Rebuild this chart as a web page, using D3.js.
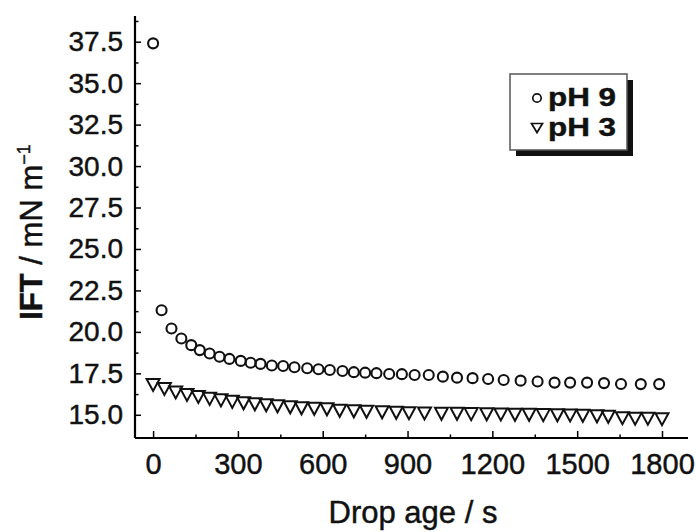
<!DOCTYPE html>
<html>
<head>
<meta charset="utf-8">
<script src="https://cdnjs.cloudflare.com/ajax/libs/d3/7.8.5/d3.min.js"></script>
<style>
  body { margin: 0; background: #fff; }
  svg { display: block; font-family: "Liberation Sans", Arial, sans-serif; }
  svg text { stroke: #111; stroke-width: 0.45px; }
</style>
</head>
<body>
<script>
// drop age (s) and IFT (mN/m)
var timeH9 = [0, 30, 65, 100, 135, 165, 200, 235, 270, 310, 345, 380, 420, 460, 500, 545, 585, 625, 670, 710,
              750, 790, 835, 880, 925, 975, 1025, 1075, 1130, 1185, 1240, 1300, 1360, 1420, 1475, 1535, 1595, 1655, 1725, 1790];
var iftH9 = [37.4, 21.3, 20.2, 19.6, 19.2, 18.9, 18.7, 18.5, 18.37, 18.25, 18.14, 18.07, 17.97, 17.94, 17.87, 17.81, 17.75, 17.7, 17.64, 17.57,
             17.54, 17.51, 17.46, 17.45, 17.4, 17.4, 17.3, 17.24, 17.21, 17.16, 17.1, 17.06, 17.01, 16.94, 16.94, 16.94, 16.91, 16.86, 16.85, 16.85];

var timeH3 = [0, 40, 80, 120, 160, 200, 240, 280, 320, 360, 400, 440, 485, 525, 570, 615, 660, 710, 755, 810,
              860, 905, 960, 1020, 1075, 1125, 1180, 1230, 1280, 1330, 1380, 1430, 1475, 1520, 1570, 1610, 1660, 1705, 1750, 1800];
var iftH3 = [16.8, 16.56, 16.35, 16.2, 16.08, 15.96, 15.87, 15.78, 15.69, 15.63, 15.57, 15.51, 15.45, 15.39, 15.36, 15.33, 15.24, 15.21, 15.18, 15.15,
             15.12, 15.1, 15.08, 15.06, 15.06, 15.04, 15.03, 15.02, 15.0, 15.0, 14.98, 14.97, 14.96, 14.94, 14.91, 14.88, 14.79, 14.76, 14.76, 14.73];

var xTicks = [0, 300, 600, 900, 1200, 1500, 1800];
var xMinor = [150, 450, 750, 1050, 1350, 1650];
var yTicks = [15.0, 17.5, 20.0, 22.5, 25.0, 27.5, 30.0, 32.5, 35.0, 37.5];
var yMinor = [16.25, 18.75, 21.25, 23.75, 26.25, 28.75, 31.25, 33.75, 36.25, 38.75];
var legendNames = ["pH 9", "pH 3"];

var width = 696, height = 532;
var pLeft = 135, pRight = 688, pTop = 16, pBottom = 438;

var svg = d3.select("body").append("svg")
    .attr("width", width)
    .attr("height", height);

var x = d3.scaleLinear().domain([-64, 1892]).range([pLeft, pRight]);
var y = d3.scaleLinear().domain([13.6, 39.05]).range([pBottom, pTop]);

// axes
var xAxis = d3.axisBottom(x).tickValues(xTicks).tickSize(-7).tickPadding(15).tickFormat(d3.format("d"));
var gx = svg.append("g").attr("transform", "translate(0," + pBottom + ")").call(xAxis);
gx.selectAll("line").attr("stroke-width", 1.5);
gx.selectAll("text").attr("font-size", 29).attr("fill", "#111").attr("dy", "0.72em");
gx.select(".domain").attr("stroke-width", 2.2).attr("d", "M" + pLeft + ",0H" + pRight);

var gxm = svg.append("g").attr("transform", "translate(0," + pBottom + ")")
    .call(d3.axisBottom(x).tickValues(xMinor).tickSize(-3.5).tickFormat(""));
gxm.select(".domain").remove();
gxm.selectAll("line").attr("stroke-width", 1.5);

var yAxis = d3.axisLeft(y).tickValues(yTicks).tickSize(-6).tickPadding(12).tickFormat(d3.format(".1f"));
var gy = svg.append("g").attr("transform", "translate(" + pLeft + ",0)").call(yAxis);
gy.selectAll("line").attr("stroke-width", 1.5);
gy.selectAll("text").attr("font-size", 28).attr("fill", "#111");
gy.select(".domain").attr("stroke-width", 2.2).attr("d", "M0," + pTop + "V" + pBottom);

var gym = svg.append("g").attr("transform", "translate(" + pLeft + ",0)")
    .call(d3.axisLeft(y).tickValues(yMinor).tickSize(-3.5).tickFormat(""));
gym.select(".domain").remove();
gym.selectAll("line").attr("stroke-width", 1.5);

// axis titles
svg.append("text")
    .attr("x", 413).attr("y", 523)
    .attr("text-anchor", "middle")
    .attr("font-size", 31)
    .attr("fill", "#111")
    .text("Drop age / s");

var yt = svg.append("text")
    .attr("transform", "translate(42,232) rotate(-90)")
    .attr("text-anchor", "middle")
    .attr("font-size", 31)
    .attr("fill", "#111");
yt.append("tspan").attr("font-weight", "bold").text("IFT");
yt.append("tspan").text(" / mN m");
yt.append("tspan").attr("font-size", 18).attr("dy", -12).text("\u22121");

// markers
var tri = "M-6.5,-6L6.5,-6L0,6Z";

svg.append("g").selectAll("path")
    .data(timeH3)
    .join("path")
    .attr("transform", function (d, i) { return "translate(" + x(d) + "," + y(iftH3[i]) + ")"; })
    .attr("d", tri)
    .attr("fill", "none")
    .attr("stroke", "#111")
    .attr("stroke-width", 2)
    .attr("stroke-linejoin", "miter");

svg.append("g").selectAll("circle")
    .data(timeH9)
    .join("circle")
    .attr("cx", function (d) { return x(d); })
    .attr("cy", function (d, i) { return y(iftH9[i]); })
    .attr("r", 5)
    .attr("fill", "none")
    .attr("stroke", "#111")
    .attr("stroke-width", 2.1);

// legend
var lg = svg.append("g");
lg.append("rect").attr("x", 516).attr("y", 80).attr("width", 117).attr("height", 76).attr("fill", "#111");
lg.append("rect").attr("x", 510).attr("y", 74).attr("width", 117).attr("height", 76)
    .attr("fill", "#fff").attr("stroke", "#555").attr("stroke-width", 1.5);

lg.append("circle").attr("cx", 537).attr("cy", 98).attr("r", 4.2).attr("fill", "none").attr("stroke", "#111").attr("stroke-width", 1.7);
lg.append("path").attr("transform", "translate(537,128)").attr("d", "M-5.5,-4.5L5.5,-4.5L0,4.5Z")
    .attr("fill", "none").attr("stroke", "#111").attr("stroke-width", 1.7);

lg.selectAll("text.leg")
    .data(legendNames)
    .join("text")
    .attr("class", "leg")
    .attr("x", 548)
    .attr("y", function (d, i) { return 106 + i * 30; })
    .attr("font-size", 25)
    .attr("font-weight", "bold")
    .attr("fill", "#111")
    .attr("textLength", 68)
    .attr("lengthAdjust", "spacingAndGlyphs")
    .text(function (d) { return d; });
</script>
</body>
</html>
